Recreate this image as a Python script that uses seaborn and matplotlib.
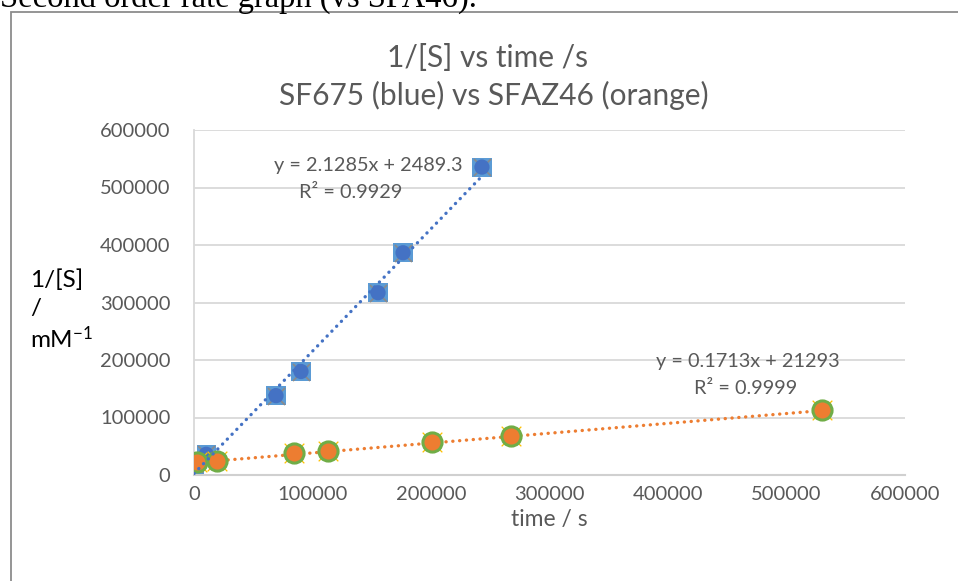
import matplotlib
matplotlib.use("Agg")
import matplotlib.pyplot as plt
from matplotlib.patches import Rectangle
import numpy as np
import pandas as pd
import seaborn as sns

# SF675 measurements
sf675_time = [0, 10300, 69200, 90300, 155300, 176400, 243000]
sf675_inv_s = [19000, 36000, 138000, 180000, 317000, 386500, 535500]

# SFAZ46 measurements
sfaz46_time = [2300, 19400, 84400, 113100, 200800, 267500, 530000]
sfaz46_inv_s = [23000, 25000, 38000, 41500, 57000, 68500, 112500]

# Linear trendline coefficients (slope, intercept, R^2)
sf675_fit = (2.1285, 2489.3, 0.9929)
sfaz46_fit = (0.1713, 21293, 0.9999)

x_ticks = [0, 100000, 200000, 300000, 400000, 500000, 600000]
y_ticks = [0, 100000, 200000, 300000, 400000, 500000, 600000]

sns.set_theme(style="white")
plt.rcParams["font.family"] = ["Lato", "DejaVu Sans"]
plt.rcParams["mathtext.fontset"] = "custom"
plt.rcParams["mathtext.rm"] = "Lato"
plt.rcParams["mathtext.it"] = "Lato:italic"

fig = plt.figure(figsize=(9.58, 5.81), dpi=100)
ax = fig.add_axes([194 / 958, 1 - 475 / 581, (905 - 194) / 958, (475 - 130) / 581])

# chart area frame
fig.patches.append(Rectangle((11 / 958, -0.1), 1.2, 1 - 12 / 581 + 0.1,
                             transform=fig.transFigure, fill=False,
                             edgecolor="#8c8c8c", linewidth=1.3))

# heading of the surrounding document
fig.text(0.0, 1 - 7 / 581, "Second order rate graph (vs SFA46).",
         family="Liberation Serif", fontsize=23.5, color="black",
         ha="left", va="baseline")

blue_df = pd.DataFrame({"time": sf675_time, "inv": sf675_inv_s})
orange_df = pd.DataFrame({"time": sfaz46_time, "inv": sfaz46_inv_s})


def trend(df, fit):
    """Straight line from the fitted equation over the data's time span."""
    xs = np.array([0, max(df["time"])])
    return pd.DataFrame({"time": xs, "inv": fit[0] * xs + fit[1]})


dot = (0, (0.05, 2.0))
sns.lineplot(data=trend(orange_df, sfaz46_fit), x="time", y="inv", ax=ax,
             color="#ED7D31", linewidth=2.4, linestyle=dot,
             dash_capstyle="round", zorder=2)

# SF675 markers (layered square / cross / circle)
sns.scatterplot(data=blue_df, x="time", y="inv", ax=ax, marker="s", s=190,
                color="#5B9BD5", edgecolor="none", linewidth=0, zorder=3)
sns.scatterplot(data=blue_df, x="time", y="inv", ax=ax, marker="x", s=150,
                color="#8a8a8a", linewidth=1.2, zorder=3)
sns.scatterplot(data=blue_df, x="time", y="inv", ax=ax, marker="o", s=120,
                color="#4472C4", edgecolor="none", linewidth=0, zorder=3)

# SFAZ46 markers (cross / green-rimmed orange circle)
sns.scatterplot(data=orange_df, x="time", y="inv", ax=ax, marker="x", s=200,
                color="#FFC000", linewidth=0.9, zorder=4)
sns.scatterplot(data=orange_df, x="time", y="inv", ax=ax, marker="o", s=190,
                color="#ED7D31", edgecolor="#70AD47", linewidth=2.2, zorder=4)

sns.lineplot(data=trend(blue_df, sf675_fit), x="time", y="inv", ax=ax,
             color="#4472C4", linewidth=2.4, linestyle=dot,
             dash_capstyle="round", zorder=5)

ax.set_xlim(0, 600000)
ax.set_ylim(0, 600000)
ax.set_xticks(x_ticks)
ax.set_yticks(y_ticks)
ax.set_xticklabels([str(v) for v in x_ticks])
ax.set_yticklabels([str(v) for v in y_ticks])
ax.tick_params(axis="both", length=0, labelsize=14.5, labelcolor="#595959")
ax.tick_params(axis="x", pad=8)
ax.tick_params(axis="y", pad=17)
ax.grid(axis="y", color="#d9d9d9", linewidth=1.3)
ax.set_axisbelow(True)
for side in ("top", "right"):
    ax.spines[side].set_visible(False)
ax.spines["bottom"].set_color("#d0d0d0")
ax.spines["bottom"].set_linewidth(1.5)
ax.spines["left"].set_color("#d9d9d9")
ax.spines["left"].set_linewidth(1.3)

ax.set_xlabel("time / s", fontsize=16.5, color="#595959", labelpad=4)
ax.set_ylabel("")

# vertical axis title
fig.text(30 / 958, 1 - 280 / 581, "1/[S]", fontsize=17.5, color="black",
         ha="left", va="center")
fig.text(30 / 958, 1 - 309 / 581, "/", fontsize=17.5, color="black",
         ha="left", va="center")
fig.text(30 / 958, 1 - 339 / 581, "mM$^{-1}$", fontsize=17.5, color="black",
         ha="left", va="center")

# chart title
fig.text(487 / 958, 1 - 58 / 581, "1/[S] vs time /s", fontsize=21.5,
         color="#595959", ha="center", va="center")
fig.text(494 / 958, 1 - 95 / 581, "SF675 (blue) vs SFAZ46 (orange)",
         fontsize=21.5, color="#595959", ha="center", va="center")

# trendline equations
fig.text(368 / 958, 1 - 166 / 581, f"y = {sf675_fit[0]}x + {sf675_fit[1]}",
         fontsize=14.3, color="#595959", ha="center", va="center")
fig.text(351 / 958, 1 - 193 / 581, f"R² = {sf675_fit[2]}",
         fontsize=14.3, color="#595959", ha="center", va="center")
fig.text(748 / 958, 1 - 361 / 581, f"y = {sfaz46_fit[0]}x + {sfaz46_fit[1]}",
         fontsize=14.3, color="#595959", ha="center", va="center")
fig.text(746 / 958, 1 - 388 / 581, f"R² = {sfaz46_fit[2]}",
         fontsize=14.3, color="#595959", ha="center", va="center")

fig.savefig("out.png", dpi=100, facecolor="white")
